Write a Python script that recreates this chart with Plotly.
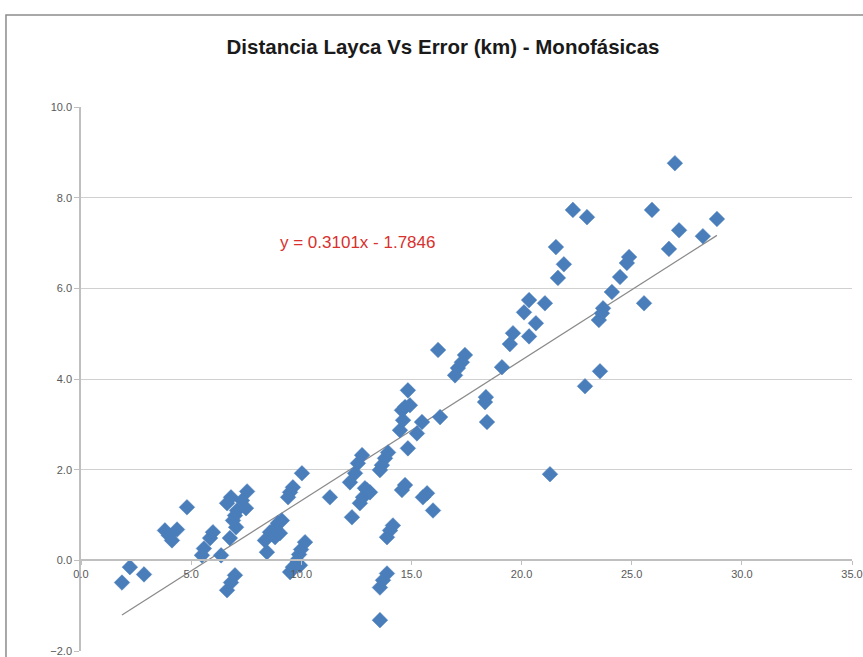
import plotly.graph_objects as go

# Distance (km) values
distancia = [1.86, 2.22, 2.86, 3.81, 4.36, 4.13, 3.99, 4.81, 5.49, 5.58, 5.86, 5.99, 6.36,
             6.63, 6.81, 6.99, 6.63, 6.81, 7.08, 7.31, 7.54, 7.49, 6.90, 7.04, 6.99, 6.76,
             8.44, 8.35, 8.58, 8.81, 8.94, 9.12, 8.81, 9.03, 9.40, 9.49, 9.62, 10.03,
             9.49, 9.62, 9.80, 9.90, 9.99, 10.17, 9.94, 11.30, 12.30, 12.21, 12.44, 12.57,
             12.76, 12.66, 12.80, 12.98, 13.12, 12.89, 13.57, 13.66, 13.80, 13.94, 13.89,
             14.03, 14.16, 13.57, 13.71, 13.89, 13.57, 14.48, 14.57, 14.71, 14.93, 14.84,
             14.62, 14.84, 15.25, 15.48, 16.30, 14.57, 14.71, 15.52, 15.71, 15.98, 16.21,
             16.98, 17.11, 17.29, 17.43, 19.11, 18.38, 18.34, 18.43, 19.47, 19.61, 20.34,
             20.65, 20.11, 20.34, 21.06, 21.29, 21.56, 21.92, 21.65, 22.33, 22.97, 22.88,
             23.56, 23.51, 23.65, 23.70, 24.10, 24.47, 24.78, 24.88, 25.56, 25.92, 26.69,
             26.96, 27.15, 28.23, 28.87]

# Error (km) values
error = [-0.49, -0.15, -0.31, 0.66, 0.68, 0.44, 0.55, 1.17, 0.11, 0.26, 0.49, 0.62, 0.11,
         -0.66, -0.49, -0.33, 1.26, 1.39, 1.10, 1.32, 1.52, 1.15, 0.88, 0.73, 0.99, 0.49,
         0.18, 0.44, 0.62, 0.71, 0.82, 0.88, 0.51, 0.60, 1.39, 1.50, 1.61, 1.92,
         -0.26, -0.15, 0.00, 0.13, 0.24, 0.40, -0.11, 1.39, 0.95, 1.72, 1.92, 2.14,
         2.32, 1.26, 1.39, 1.55, 1.50, 1.59, 1.99, 2.10, 2.25, 2.38, 0.51,
         0.66, 0.77, -0.60, -0.44, -0.29, -1.32, 2.87, 3.31, 3.38, 3.42, 3.75,
         3.09, 2.47, 2.80, 3.05, 3.16, 1.55, 1.66, 1.39, 1.48, 1.10, 4.64,
         4.08, 4.24, 4.37, 4.53, 4.26, 3.60, 3.49, 3.05, 4.77, 5.01, 4.94,
         5.23, 5.47, 5.74, 5.67, 1.90, 6.91, 6.53, 6.23, 7.73, 7.57, 3.84,
         4.17, 5.30, 5.45, 5.56, 5.92, 6.25, 6.56, 6.69, 5.67, 7.73, 6.87,
         8.76, 7.28, 7.15, 7.53]

# Trendline from the equation shown on the chart
slope = 0.3101
intercept = -1.7846
trend_x = [min(distancia), max(distancia)]
trend_y = [slope * v + intercept for v in trend_x]

x_ticks = [0, 5, 10, 15, 20, 25, 30, 35]
y_ticks = [-2, 0, 2, 4, 6, 8, 10]

title_text = "Distancia Layca Vs Error (km) - Monofásicas"
equation_text = "y = 0.3101x - 1.7846"

FONT = "Liberation Sans Narrow, Arial Narrow, Liberation Sans, sans-serif"

fig = go.Figure()
fig.add_trace(go.Scatter(
    x=trend_x, y=trend_y, mode="lines",
    line=dict(color="#8a8a8a", width=1.2),
    showlegend=False, hoverinfo="skip"))
fig.add_trace(go.Scatter(
    x=distancia, y=error, mode="markers",
    marker=dict(symbol="diamond", size=12, color="#4a7ebb",
                line=dict(color="#4a7ebb", width=0.5)),
    showlegend=False))

fig.add_annotation(x=12.57, y=7.02, text=equation_text, showarrow=False,
                   font=dict(family=FONT, size=17, color="#d8312e"),
                   xanchor="center", yanchor="middle")

# Chart outer border
fig.add_shape(type="rect", xref="paper", yref="paper",
              x0=-0.0973, y0=-0.2, x1=1.2, y1=1.169,
              line=dict(color="#8c8c8c", width=1.5), layer="below")

tick_font = dict(family=FONT, size=11, color="#595959")

fig.update_layout(
    width=863, height=657,
    margin=dict(l=81, r=11, t=107, b=6, autoexpand=False),
    paper_bgcolor="white", plot_bgcolor="white",
    title=dict(text=title_text, x=443 / 863, xref="container", xanchor="center",
               y=1 - 47 / 657, yanchor="middle",
               font=dict(family=FONT, size=20.5, color="#1a1a1a", weight="bold")),
    xaxis=dict(range=[0, 35], tickvals=x_ticks, tickformat=".1f",
               showgrid=False, zeroline=False, automargin=False,
               anchor="free", position=1 / 6,
               showline=True, linecolor="#bfbfbf", linewidth=1.5,
               ticks="outside", ticklen=4, tickcolor="#bfbfbf",
               tickfont=tick_font),
    yaxis=dict(range=[-2, 10], tickvals=y_ticks, tickformat=".1f",
               showgrid=True, gridcolor="#d0d0d0", gridwidth=1.3,
               zeroline=False, automargin=False,
               showline=True, linecolor="#bfbfbf", linewidth=1.5,
               ticks="outside", ticklen=5, tickcolor="#bfbfbf",
               tickfont=tick_font),
)

fig.write_html("out.html",
               config={"displayModeBar": False},
               post_script="document.body.style.margin='0px';document.body.style.overflow='hidden';")
